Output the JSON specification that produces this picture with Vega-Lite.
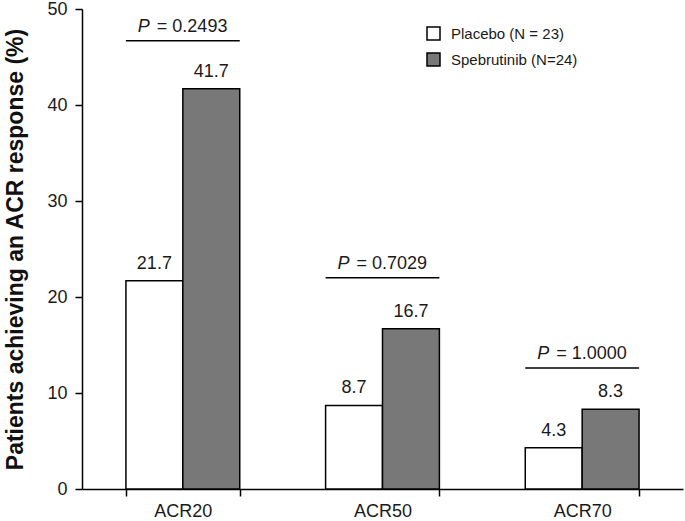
{
  "$schema": "https://vega.github.io/schema/vega-lite/v6.json",
  "autosize": {"type": "none"},
  "padding": {"left": 82, "top": 9, "right": 2, "bottom": 32},
  "width": 601,
  "height": 480,
  "config": {
    "font": "Liberation Sans",
    "view": {"stroke": null},
    "axis": {"grid": false, "domainColor": "#000", "domainWidth": 1.5, "tickColor": "#000", "tickWidth": 1.5, "tickSize": 7, "labelFontSize": 18, "labelColor": "#1a1a1a", "labelFont": "Liberation Sans"}
  },
  "datasets": {
    "bars": [
      {"cat": "ACR20", "group": "Placebo (N = 23)", "value": 21.7},
      {"cat": "ACR20", "group": "Spebrutinib (N=24)", "value": 41.7},
      {"cat": "ACR50", "group": "Placebo (N = 23)", "value": 8.7},
      {"cat": "ACR50", "group": "Spebrutinib (N=24)", "value": 16.7},
      {"cat": "ACR70", "group": "Placebo (N = 23)", "value": 4.3},
      {"cat": "ACR70", "group": "Spebrutinib (N=24)", "value": 8.3}
    ],
    "pvals": [
      {"cat": "ACR20", "line": 46.7, "ptext": "= 0.2493"},
      {"cat": "ACR50", "line": 22.0, "ptext": "= 0.7029"},
      {"cat": "ACR70", "line": 12.6, "ptext": "= 1.0000"}
    ]
  },
  "encoding": {
    "x": {
      "field": "cat", "type": "nominal", "sort": ["ACR20", "ACR50", "ACR70"],
      "scale": {"paddingInner": 0.43, "paddingOuter": 0.22},
      "axis": {"title": null, "labelAngle": 0, "tickBand": "extent", "labelPadding": 6}
    }
  },
  "layer": [
    {
      "data": {"name": "bars"},
      "mark": {"type": "bar", "stroke": "#000", "strokeWidth": 1.5},
      "encoding": {
        "xOffset": {"field": "group", "type": "nominal", "sort": ["Placebo (N = 23)", "Spebrutinib (N=24)"]},
        "y": {
          "field": "value", "type": "quantitative",
          "scale": {"domain": [0, 50], "nice": false},
          "axis": {"values": [0, 10, 20, 30, 40, 50], "title": "Patients achieving an ACR response (%)", "titleFontSize": 23, "titleFontWeight": "bold", "titleColor": "#111", "titlePadding": 19, "labelPadding": 8}
        },
        "fill": {
          "field": "group", "type": "nominal",
          "scale": {"domain": ["Placebo (N = 23)", "Spebrutinib (N=24)"], "range": ["#ffffff", "#787878"]},
          "legend": {"title": null, "orient": "none", "legendX": 344, "legendY": 17, "symbolType": "square", "symbolSize": 169, "symbolStrokeColor": "#000", "symbolStrokeWidth": 1.5, "labelFontSize": 15, "labelColor": "#1a1a1a", "rowPadding": 7, "labelOffset": 10}
        }
      }
    },
    {
      "data": {"name": "bars"},
      "mark": {"type": "text", "fontSize": 18, "color": "#1a1a1a", "baseline": "alphabetic", "dy": -12},
      "encoding": {
        "xOffset": {"field": "group", "type": "nominal", "sort": ["Placebo (N = 23)", "Spebrutinib (N=24)"]},
        "y": {"field": "value", "type": "quantitative"},
        "text": {"field": "value", "type": "quantitative", "format": ".1f"}
      }
    },
    {
      "data": {"name": "pvals"},
      "mark": {"type": "bar", "stroke": "#000", "strokeWidth": 1.5, "fill": null},
      "encoding": {
        "y": {"field": "line", "type": "quantitative"},
        "y2": {"field": "line"}
      }
    },
    {
      "data": {"name": "pvals"},
      "mark": {"type": "text", "fontSize": 18, "fontStyle": "italic", "color": "#1a1a1a", "align": "left", "baseline": "alphabetic", "dy": -9, "dx": -45},
      "encoding": {
        "y": {"field": "line", "type": "quantitative"},
        "text": {"value": "P"}
      }
    },
    {
      "data": {"name": "pvals"},
      "mark": {"type": "text", "fontSize": 18, "color": "#1a1a1a", "align": "left", "baseline": "alphabetic", "dy": -9, "dx": -26},
      "encoding": {
        "y": {"field": "line", "type": "quantitative"},
        "text": {"field": "ptext"}
      }
    }
  ]
}
